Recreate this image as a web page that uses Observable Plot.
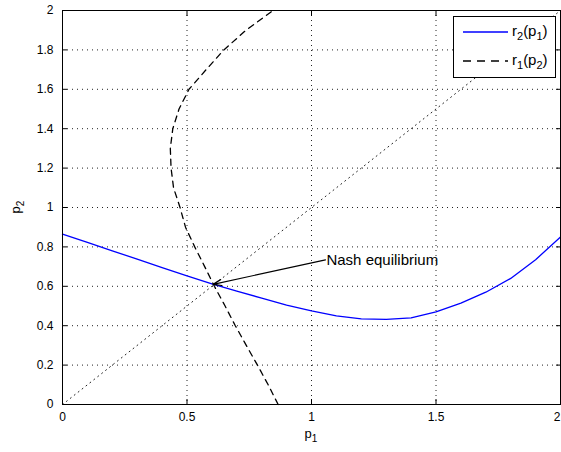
<!DOCTYPE html>
<html>
<head>
<meta charset="utf-8">
<script src="https://cdn.jsdelivr.net/npm/d3@7"></script>
<script src="https://cdn.jsdelivr.net/npm/@observablehq/plot@0.6"></script>
<style>
  body { margin: 0; background: #fff; }
  #wrap { position: relative; width: 561px; height: 452px; overflow: hidden; font-family: "Liberation Sans", Arial, sans-serif; }
  #legend { position: absolute; left: 453px; top: 16px; }
</style>
</head>
<body>
<div id="wrap"></div>
<script>
// ---- data ----
const p1Grid = [0, 0.1, 0.2, 0.3, 0.4, 0.5, 0.6, 0.7, 0.8, 0.9, 1.0, 1.1, 1.2, 1.3, 1.4, 1.5, 1.6, 1.7, 1.8, 1.9, 2.0];
const r2Values = [0.865, 0.823, 0.78, 0.738, 0.695, 0.653, 0.612, 0.575, 0.54, 0.505, 0.475, 0.45, 0.435, 0.432, 0.44, 0.47, 0.515, 0.57, 0.64, 0.735, 0.85];
const p2Grid = [0, 0.1, 0.2, 0.3, 0.4, 0.5, 0.6, 0.7, 0.8, 0.9, 1.0, 1.1, 1.2, 1.3, 1.4, 1.5, 1.6, 1.7, 1.8, 1.9, 2.0];
const r1Values = [0.866, 0.826, 0.783, 0.738, 0.694, 0.653, 0.61, 0.571, 0.531, 0.494, 0.472, 0.446, 0.436, 0.433, 0.443, 0.468, 0.508, 0.577, 0.648, 0.737, 0.846];
const diagonalEnds = [0, 2];
const xTicks = [0, 0.5, 1, 1.5, 2];
const xTickLabels = ["0", "0.5", "1", "1.5", "2"];
const yTicks = [0, 0.2, 0.4, 0.6, 0.8, 1, 1.2, 1.4, 1.6, 1.8, 2];
const yTickLabels = ["0", "0.2", "0.4", "0.6", "0.8", "1", "1.2", "1.4", "1.6", "1.8", "2"];
const annotText = ["Nash equilibrium"];
const annotFrom = [1.056, 0.734];   // text anchor (p1, p2)
const annotTo = [0.605, 0.61];      // Nash equilibrium point (p1, p2)
const legendNames = [["r", "2", "p", "1"], ["r", "1", "p", "2"]];
const legendColors = ["#0000ff", "#000000"];
const legendDash = [null, "8,6"];

// ---- tables built from arrays ----
const r2Data = p1Grid.map((p, i) => ({x: p, y: r2Values[i]}));
const r1Data = p2Grid.map((p, i) => ({x: r1Values[i], y: p}));
const diagData = diagonalEnds.map(v => ({x: v, y: v}));
const annotData = annotText.map(t => ({t, x1: annotFrom[0], y1: annotFrom[1], x2: annotTo[0], y2: annotTo[1]}));

const gridStyle = {stroke: "#222", strokeOpacity: 1, strokeWidth: 1, strokeDasharray: "1,4"};
const xFmt = (d) => xTickLabels[xTicks.indexOf(d)];
const xInner = xTicks.slice(0, -1);
const xLast = xTicks.slice(-1);

const plot = Plot.plot({
  width: 561,
  height: 452,
  marginLeft: 62,
  marginRight: 1,
  marginTop: 10,
  marginBottom: 48,
  style: {fontFamily: "'Liberation Sans', Arial, sans-serif", fontSize: "12px", background: "transparent", overflow: "visible"},
  x: {domain: [0, 2]},
  y: {domain: [0, 2]},
  marks: [
    Plot.gridX(xTicks, gridStyle),
    Plot.gridY(yTicks, gridStyle),
    Plot.line(diagData, {x: "x", y: "y", ...gridStyle}),
    Plot.line(r2Data, {x: "x", y: "y", stroke: "#0000ff", strokeWidth: 1.3}),
    Plot.line(r1Data, {x: "x", y: "y", stroke: "#000", strokeWidth: 1.3, strokeDasharray: "6,5"}),
    Plot.arrow(annotData, {x1: "x1", y1: "y1", x2: "x2", y2: "y2", stroke: "#000", strokeWidth: 1.2, headLength: 11, headAngle: 40}),
    Plot.text(annotData, {x: "x1", y: "y1", text: "t", textAnchor: "start", fontSize: 15, dx: 1, fill: "#000"}),
    Plot.frame({stroke: "#000", strokeWidth: 1}),
    Plot.axisX({ticks: xInner, tickFormat: xFmt, tickSize: -5, tickPadding: 13, label: null, fill: "#000", stroke: "#000"}),
    Plot.axisX({ticks: xLast, tickFormat: xFmt, tickSize: -5, tickPadding: 13, label: null, fill: "#000", stroke: "#000", textAnchor: "end", dx: 0}),
    Plot.axisX({anchor: "top", ticks: xTicks, tickFormat: () => "", tickSize: -5, label: null, stroke: "#000"}),
    Plot.axisY({ticks: yTicks, tickFormat: (d) => yTickLabels[yTicks.findIndex(t => Math.abs(t - d) < 1e-9)], tickSize: -5, tickPadding: 14, label: null, fill: "#000", stroke: "#000"}),
    Plot.axisY({anchor: "right", ticks: yTicks, tickFormat: () => "", tickSize: -5, label: null, stroke: "#000"})
  ]
});

const wrap = document.getElementById("wrap");
wrap.appendChild(plot);

// axis labels with subscripts
const svg = d3.select(plot);
const xs = plot.scale("x"), ys = plot.scale("y");
const xl = svg.append("text")
  .attr("x", xs.apply(1)).attr("y", 438)
  .attr("text-anchor", "middle").attr("font-size", 13).attr("fill", "#000");
xl.append("tspan").text("p");
xl.append("tspan").attr("dy", 4).attr("font-size", 10).text("1");

const yl = svg.append("text")
  .attr("transform", `translate(20,${ys.apply(1)}) rotate(-90)`)
  .attr("text-anchor", "middle").attr("font-size", 13).attr("fill", "#000");
yl.append("tspan").text("p");
yl.append("tspan").attr("dy", 4).attr("font-size", 10).text("2");

// legend
const lw = 103, lh = 62;
const leg = d3.select(wrap).append("svg")
  .attr("id", "legend").attr("width", lw).attr("height", lh)
  .style("font-family", "'Liberation Sans', Arial, sans-serif");
leg.append("rect").attr("x", 0.5).attr("y", 0.5).attr("width", lw - 1).attr("height", lh - 1)
  .attr("fill", "#fff").attr("stroke", "#000");
legendNames.forEach((n, i) => {
  const cy = 16 + i * 29;
  leg.append("line").attr("x1", 10).attr("x2", 55).attr("y1", cy).attr("y2", cy)
    .attr("stroke", legendColors[i]).attr("stroke-width", 1.3)
    .attr("stroke-dasharray", legendDash[i]);
  const t = leg.append("text").attr("x", 59).attr("y", cy + 4).attr("font-size", 15).attr("fill", "#000");
  t.append("tspan").text(n[0]);
  t.append("tspan").attr("dy", 4).attr("font-size", 11).text(n[1]);
  t.append("tspan").attr("dy", -4).text("(" + n[2]);
  t.append("tspan").attr("dy", 4).attr("font-size", 11).text(n[3]);
  t.append("tspan").attr("dy", -4).text(")");
});
</script>
</body>
</html>
